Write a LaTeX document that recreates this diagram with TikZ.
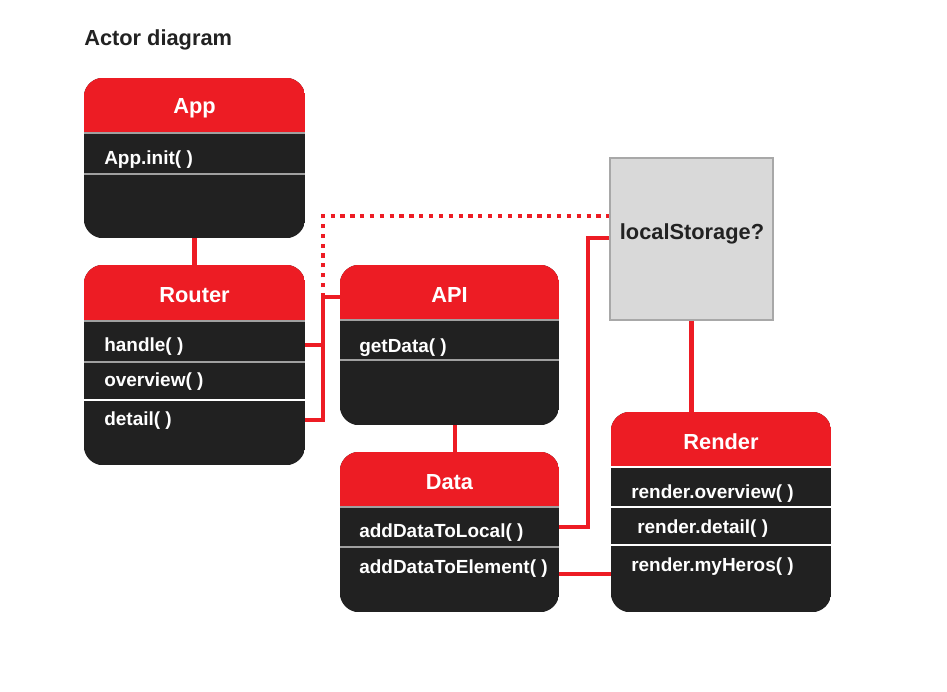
\documentclass[tikz,border=0pt]{standalone}
\usepackage{fontspec}
\setmainfont{Liberation Sans}
\usetikzlibrary{fit}

\definecolor{boxred}{HTML}{ED1C24}
\definecolor{boxdark}{HTML}{212121}
\definecolor{rulegrey}{HTML}{A0A0A0}
\definecolor{storegrey}{HTML}{D9D9D9}
\definecolor{storeline}{HTML}{A8A8A8}
\definecolor{inktext}{HTML}{222222}

\begin{document}
\begin{tikzpicture}[x=0.025cm, y=-0.025cm,
    classbox/.style={inner sep=0pt},
    header/.style={text=white, yshift=-2pt, font=\fontsize{15.5}{18}\selectfont\bfseries},
    method/.style={text=white, anchor=west, inner sep=0pt, yshift=-2pt, font=\fontsize{13.5}{16}\selectfont\bfseries},
    divider/.style={rulegrey, line width=1.5pt},
    whitedivider/.style={white, line width=1pt},
    link/.style={boxred, line width=3pt},
    dotlink/.style={boxred, line width=3pt, dash pattern=on 3pt off 4pt}]
\fill[white] (0,0) rectangle (947,691);
\useasboundingbox (0,0) rectangle (947,691);

\node[anchor=west, inner sep=0pt, yshift=-2pt, text=inktext, font=\fontsize{15.5}{18}\selectfont\bfseries] (heading) at (84,37) {Actor diagram};

% App
\node[classbox, fit={(84,78) (305,238)}] (app) {};
\begin{scope}
  \clip[rounded corners=14pt] (app.north west) rectangle (app.south east);
  \fill[boxdark] (app.north west) rectangle (app.south east);
  \fill[boxred] (app.north west) rectangle (305,133);
\end{scope}
\draw[divider] (84,133) -- (305,133);
\draw[divider] (84,174) -- (305,174);
\node[header] (apptitle) at (194.5,105) {App};
\node[method] (appinit) at (104,157) {App.init( )};

% Router
\node[classbox, fit={(84,265) (305,465)}] (router) {};
\begin{scope}
  \clip[rounded corners=14pt] (router.north west) rectangle (router.south east);
  \fill[boxdark] (router.north west) rectangle (router.south east);
  \fill[boxred] (router.north west) rectangle (305,321);
\end{scope}
\draw[divider] (84,321) -- (305,321);
\draw[divider] (84,362) -- (305,362);
\draw[whitedivider] (84,400) -- (305,400);
\node[header] (routertitle) at (194.5,292) {Router};
\node[method] (handle) at (104,344) {handle( )};
\node[method] (overview) at (104,379) {overview( )};
\node[method] (detail) at (104,418) {detail( )};

% API
\node[classbox, fit={(340,265) (559,425)}] (api) {};
\begin{scope}
  \clip[rounded corners=14pt] (api.north west) rectangle (api.south east);
  \fill[boxdark] (api.north west) rectangle (api.south east);
  \fill[boxred] (api.north west) rectangle (559,320);
\end{scope}
\draw[divider] (340,320) -- (559,320);
\draw[divider] (340,360) -- (559,360);
\node[header] (apititle) at (449.5,292) {API};
\node[method] (getdata) at (359,345) {getData( )};

% Data
\node[classbox, fit={(340,452) (559,612)}] (data) {};
\begin{scope}
  \clip[rounded corners=14pt] (data.north west) rectangle (data.south east);
  \fill[boxdark] (data.north west) rectangle (data.south east);
  \fill[boxred] (data.north west) rectangle (559,507);
\end{scope}
\draw[divider] (340,507) -- (559,507);
\draw[divider] (340,547) -- (559,547);
\node[header] (datatitle) at (449.5,479) {Data};
\node[method] (tolocal) at (359,530) {addDataToLocal( )};
\node[method] (toelement) at (359,566) {addDataToElement( )};

% Render
\node[classbox, fit={(611,412) (831,612)}] (render) {};
\begin{scope}
  \clip[rounded corners=14pt] (render.north west) rectangle (render.south east);
  \fill[boxdark] (render.north west) rectangle (render.south east);
  \fill[boxred] (render.north west) rectangle (831,467);
\end{scope}
\draw[whitedivider] (611,467) -- (831,467);
\draw[whitedivider] (611,507) -- (831,507);
\draw[whitedivider] (611,545) -- (831,545);
\node[header] (rendertitle) at (721,439) {Render};
\node[method] (roverview) at (631,491) {render.overview( )};
\node[method] (rdetail) at (637,526) {render.detail( )};
\node[method] (rheros) at (631,564) {render.myHeros( )};

% localStorage
\node[classbox, draw=storeline, fill=storegrey, line width=1pt, fit={(610,158) (773,320)}] (store) {};
\node[text=inktext, yshift=-2pt, font=\fontsize{15.5}{18}\selectfont\bfseries] (storetitle) at (692,231) {localStorage?};

% connectors
\coordinate (rjoin) at (323,297);
\coordinate (sjoin) at (323,216);
\coordinate (hjoin) at (314,345);
\coordinate (tjoin) at (314,420);
\coordinate (djoin) at (588,238);
\coordinate (ljoin) at (570,527);
\coordinate (ejoin) at (585,574);
\coordinate (ajoin) at (455,438);
\draw[link] (app.south) -- (router.north);
\draw[link] (router.east |- hjoin) -| (rjoin) -- (api.west |- rjoin);
\draw[link] (router.east |- tjoin) -| (rjoin);
\draw[dotlink] (rjoin) -- (sjoin) -- (store.west |- sjoin);
\draw[link] (api.south -| ajoin) -- (data.north -| ajoin);
\draw[link] (data.east |- ljoin) -| (djoin) -- (store.west |- djoin);
\draw[link] (data.east |- ejoin) -- (render.west |- ejoin);
\draw[link] (store.south) -- (store.south |- render.north);

\end{tikzpicture}
\end{document}
